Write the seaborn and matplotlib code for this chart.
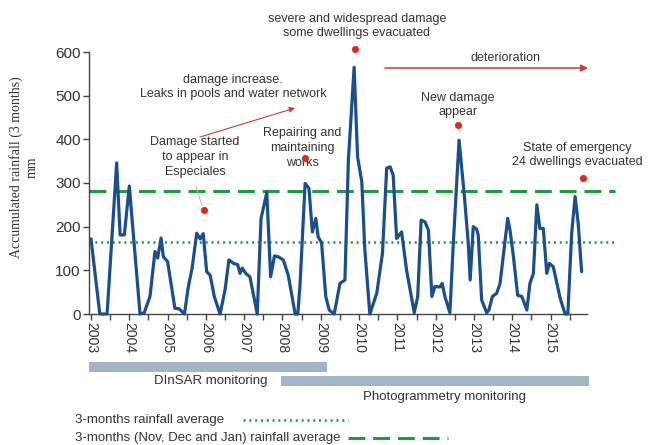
import numpy as np
import pandas as pd
import matplotlib
matplotlib.use("Agg")
import matplotlib.pyplot as plt
from matplotlib.lines import Line2D
import seaborn as sns

# ---------------- data ----------------
years = [2003.00, 2003.23, 2003.42, 2003.67, 2003.76, 2003.87, 2004.00, 2004.28, 2004.39,
         2004.54, 2004.67, 2004.74, 2004.83, 2004.89, 2005.00, 2005.19, 2005.30, 2005.44,
         2005.54, 2005.64, 2005.76, 2005.85, 2005.93, 2006.02, 2006.11, 2006.22, 2006.37,
         2006.50, 2006.60, 2006.72, 2006.83, 2006.89, 2006.95, 2007.04, 2007.15, 2007.34,
         2007.44, 2007.59, 2007.69, 2007.79, 2007.89, 2008.02, 2008.15, 2008.33, 2008.40,
         2008.46, 2008.59, 2008.69, 2008.78, 2008.87, 2008.93, 2009.02, 2009.13, 2009.22,
         2009.35, 2009.50, 2009.63, 2009.72, 2009.87, 2009.96, 2010.07, 2010.15, 2010.28,
         2010.46, 2010.61, 2010.72, 2010.81, 2010.89, 2010.98, 2011.11, 2011.24, 2011.44,
         2011.53, 2011.62, 2011.72, 2011.81, 2011.90, 2011.98, 2012.11, 2012.17, 2012.24,
         2012.37, 2012.46, 2012.61, 2012.75, 2012.85, 2012.90, 2012.98, 2013.07, 2013.11,
         2013.20, 2013.33, 2013.39, 2013.48, 2013.59, 2013.68, 2013.88, 2013.94, 2014.03,
         2014.14, 2014.25, 2014.38, 2014.46, 2014.55, 2014.64, 2014.72, 2014.81, 2014.90,
         2014.97, 2015.07, 2015.25, 2015.38, 2015.45, 2015.55, 2015.64, 2015.72, 2015.81]
rainfall = [172, 0, 0, 346, 181, 181, 293, 0, 3,
            40, 143, 128, 174, 131, 120, 13, 12, 0,
            62, 105, 185, 172, 184, 97, 89, 40, 0,
            55, 124, 116, 113, 93, 105, 93, 85, 0,
            219, 278, 85, 133, 131, 124, 89, 0, 0,
            71, 299, 288, 188, 219, 177, 163, 40, 9,
            0, 70, 78, 352, 565, 360, 303, 147, 0,
            47, 139, 334, 337, 318, 173, 188, 100, 3,
            40, 215, 211, 192, 40, 63, 62, 70, 40,
            3, 162, 398, 269, 162, 78, 200, 194, 181,
            32, 3, 9, 40, 47, 70, 219, 192, 131,
            43, 40, 9, 70, 93, 250, 196, 196, 93,
            116, 108, 36, 0, 0, 185, 269, 208, 97]

avg_3month = 165          # 3-months rainfall average
avg_ndj = 281             # Nov, Dec, Jan average

event_years = [2005.95, 2008.59, 2009.89, 2012.58, 2015.85]
event_values = [238, 357, 607, 433, 311]

monitoring = ["DInSAR monitoring", "Photogrammetry monitoring"]
mon_start = [2002.93, 2007.97]
mon_end = [2009.16, 2016.00]

year_labels = list(range(2003, 2016))

# ---------------- style ----------------
sns.set_theme(style="white")
plt.rcParams["font.family"] = ["Liberation Sans", "DejaVu Sans"]
TXT = "#333333"
BLUE = "#1b4f8c"
GREEN_DASH = "#1f9a3f"
GREEN_DOT = "#2aa05a"
RED = "#e0281e"
ARROW = "#cc3b33"
BAR = "#a2b5c6"

W, H = 649, 445
fig = plt.figure(figsize=(W / 100, H / 100), dpi=100)

def px2fig(x, y):
    return x / W, 1 - y / H

# main axes: x pixel 89..615, y pixel 52..314
ppy = 38.3
x0 = 2003 - (91 - 89) / ppy
x1 = 2003 + (615 - 91) / ppy
ax = fig.add_axes([89 / W, (H - 314) / H, (615 - 89) / W, (314 - 52) / H])
ax.set_xlim(x0, x1)
ax.set_ylim(0, 600)

df = pd.DataFrame({"year": years, "rain": rainfall})
sns.lineplot(data=df, x="year", y="rain", ax=ax, color=BLUE, lw=2.3, sort=False,
             estimator=None, zorder=3, clip_on=False)

ax.axhline(avg_ndj, color=GREEN_DASH, lw=2.2, dashes=(5.5, 2.6), zorder=2, clip_on=False)
ax.axhline(avg_3month, color=GREEN_DOT, lw=1.9, dashes=(0.8, 1.4), zorder=2, clip_on=False)

ax.scatter(event_years, event_values, s=26, color=RED, zorder=4, clip_on=False, linewidths=0)

ax.set_xlabel("")
ax.set_ylabel("")
for s in ["top", "right"]:
    ax.spines[s].set_visible(False)
ax.spines["left"].set_color("#444444")
ax.spines["bottom"].set_color("#444444")
ax.spines["left"].set_linewidth(1.0)
ax.spines["bottom"].set_linewidth(1.0)
ax.spines["bottom"].set_bounds(x0, 2015.95)

ax.set_yticks([0, 100, 200, 300, 400, 500, 600])
ax.tick_params(axis="y", direction="out", length=4, width=1, color="#444444",
               labelsize=11, labelcolor=TXT, pad=2, left=True)
ax.set_xticks(year_labels)
ax.set_xticklabels([str(y) for y in year_labels], rotation=-90)
ax.set_xticks(np.arange(2003.5, 2016.0, 1.0), minor=True)
ax.tick_params(axis="x", which="both", direction="out", length=4, width=1, color="#444444",
               bottom=True)
ax.tick_params(axis="x", which="major", labelsize=10, labelcolor=TXT, pad=2)
for lab in ax.get_xticklabels():
    lab.set_va("top")

# y label
fig.text(24 / W, 1 - 167 / H, "Accumulated rainfall (3 months)\nmm", rotation=90,
         ha="center", va="center", multialignment="center",
         family=["Liberation Serif", "DejaVu Serif"], fontsize=10, color=TXT,
         linespacing=1.25)

def d(x, y):
    return 2003 + (x - 91) / ppy, (314 - y) / 0.4367

fs = 9
kw = dict(ha="center", va="center", fontsize=fs, color=TXT, clip_on=False,
          multialignment="center", linespacing=1.3)
ax.text(*d(357, 26), "severe and widespread damage\nsome dwellings evacuated", **kw)
ax.text(*d(506, 58), "deterioration", **kw)
ax.text(*d(233, 87), "damage increase.\nLeaks in pools and water network", **kw)
ax.text(*d(195, 157), "Damage started\nto appear in\nEspeciales", **kw)
ax.text(*d(302, 148), "Repairing and\nmaintaining\nworks", **kw)
ax.text(*d(458, 105), "New damage\nappear", **kw)
ax.text(*d(577, 155), "State of emergency\n24 dwellings evacuated", **kw)

ax.annotate("", xy=d(588, 68), xytext=d(385, 68), annotation_clip=False,
            arrowprops=dict(arrowstyle="-|>", color=ARROW, lw=1.1, mutation_scale=10,
                            shrinkA=0, shrinkB=0))
ax.annotate("", xy=d(295, 108), xytext=d(200, 137), annotation_clip=False,
            arrowprops=dict(arrowstyle="-|>", color=ARROW, lw=0.8, mutation_scale=8,
                            shrinkA=0, shrinkB=0))
ax.annotate("", xy=d(202, 206), xytext=d(196, 186), annotation_clip=False,
            arrowprops=dict(arrowstyle="-", color="#e8a8a8", lw=0.7, shrinkA=0, shrinkB=0))

# monitoring bars axes (pixel rows 360..400)
axb = fig.add_axes([89 / W, (H - 400) / H, (615 - 89) / W, 40 / H])
axb.set_xlim(x0, x1)
axb.set_ylim(0, 40)
axb.axis("off")
bar_y = [33, 19]
axb.barh(bar_y, np.array(mon_end) - np.array(mon_start), left=mon_start, height=10,
         color=BAR, edgecolor="none")
axb.text(*((2003 + (211 - 91) / ppy), 19), monitoring[0], ha="center", va="center",
         fontsize=fs + 0.5, color=TXT)
axb.text(*((2003 + (445 - 91) / ppy), 3), monitoring[1], ha="center", va="center",
         fontsize=fs + 0.5, color=TXT)

# legend (bottom)
fig.text(*px2fig(75, 420), "3-months rainfall average", ha="left", va="center",
         fontsize=9.5, color=TXT)
fig.add_artist(Line2D([243 / W, 348 / W], [1 - 420 / H] * 2, color=GREEN_DOT, lw=1.9,
                      dashes=(0.8, 1.4)))
fig.text(*px2fig(75, 438), "3-months (Nov, Dec and Jan) rainfall average", ha="left",
         va="center", fontsize=9.5, color=TXT)
fig.add_artist(Line2D([348 / W, 448 / W], [1 - 438 / H] * 2, color=GREEN_DASH, lw=2.2,
                      dashes=(5.5, 2.6)))

fig.savefig("out.png", dpi=100)
